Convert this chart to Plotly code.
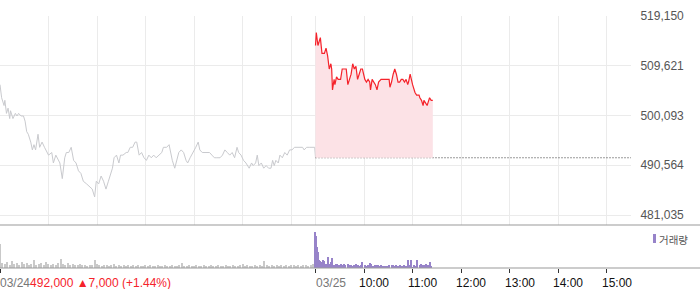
import plotly.graph_objects as go

# ---------------- data ----------------
# Day 1 (03/24): minutes since 09:00 and price
d1_min = [0, 2, 5, 6, 8, 10, 12, 13, 16, 19, 21, 23, 26, 29, 31, 33, 35, 38, 40, 42, 44, 47, 49, 52, 55, 58,
          60, 64, 66, 69, 72, 74, 77, 80, 82, 85, 88, 91, 94, 97, 100, 103, 107, 111, 114, 117, 119, 122, 125,
          128, 131, 134, 137, 139, 141, 144, 147, 149, 152, 156, 158, 161, 164, 167, 169, 172, 175, 178, 181,
          184, 187, 190, 193, 197, 200, 202, 206, 209, 211, 213, 216, 219, 221, 224, 227, 230, 232, 235, 239,
          242, 245, 247, 250, 253, 256, 259, 262, 265, 268, 272, 275, 278, 281, 284, 287, 290, 293, 295, 298,
          301, 304, 308, 311, 313, 316, 318, 320, 323, 326, 329, 332, 335, 337, 339, 341, 344, 346, 349, 352,
          355, 358, 361, 364, 367, 370, 374, 376, 379, 383, 386, 389, 390]
d1_price = [506000, 503500, 502000, 503000, 500500, 501500, 499500, 501000, 499500, 500500, 500000, 500500,
            500000, 500000, 499000, 497000, 496500, 495000, 493500, 494500, 493500, 496500, 494000, 495000,
            494000, 493000, 492500, 493000, 491000, 492500, 491500, 491000, 488000, 492000, 493000, 493000,
            494000, 491500, 491000, 489500, 489000, 487500, 487000, 486500, 486000, 484500, 487500, 487000,
            488500, 487500, 486000, 487500, 489000, 490000, 492000, 492500, 491000, 492500, 492500, 493000,
            493000, 494000, 494000, 495000, 495000, 492500, 493000, 492000, 491500, 492500, 492000, 492500,
            492000, 492500, 493000, 494000, 494000, 494500, 493000, 491500, 490000, 492000, 493000, 493500,
            493000, 491500, 491000, 492000, 493000, 494000, 495000, 493500, 493000, 493000, 493000, 493000,
            492500, 492000, 492000, 492000, 492500, 493500, 493000, 492500, 493000, 492000, 494000, 493000,
            492500, 491500, 491000, 490000, 491000, 490500, 491000, 492500, 490500, 491000, 490000, 490500,
            490000, 490000, 491500, 490500, 491500, 491000, 492500, 492000, 493000, 492500, 493500, 493500,
            494000, 494000, 494000, 494000, 493500, 494000, 494000, 494000, 494000, 492000]

# Day 2 (03/25): minutes since 09:00 and price
d2_min = [0, 1, 3, 5, 6, 8, 11, 13, 15, 17, 19, 20, 21, 23, 24, 26, 28, 31, 33, 36, 38, 40, 42, 44, 46, 48,
          50, 52, 54, 56, 58, 61, 63, 65, 67, 68, 70, 72, 74, 76, 78, 81, 83, 86, 89, 91, 92, 94, 96, 98, 100,
          102, 104, 106, 108, 110, 112, 114, 115, 117, 120, 121, 123, 125, 128, 129, 131, 133, 134, 136, 138,
          139, 141, 143, 145]
d2_price = [513500, 516000, 513500, 514500, 515000, 512000, 512000, 513000, 511500, 509000, 510000, 509000,
            505000, 507000, 506000, 507500, 507000, 507000, 509000, 509000, 509000, 506000, 507000, 508000,
            510000, 509000, 509500, 507000, 508000, 509000, 509000, 507000, 506500, 507000, 506500, 505000,
            507000, 506500, 506000, 505000, 506500, 507000, 507000, 507000, 507000, 507000, 505500, 506500,
            508000, 509000, 508000, 506500, 506500, 507000, 507000, 506500, 507000, 506000, 506500, 508000,
            506000, 505500, 504500, 504000, 504000, 503500, 503000, 502000, 503000, 502500, 502000, 502500,
            503500, 503000, 503000]

prev_close = 492000

# Volume (relative units)
v1_min = list(range(0, 390, 3))
v1_vol = [24, 5, 4, 6, 3, 7, 4, 5, 3, 6, 4, 5, 3, 4, 8, 3, 4, 5, 3, 6, 4, 3, 4, 3, 5, 9, 4, 3, 5, 3, 4, 3,
          3, 4, 3, 3, 2, 3, 3, 8, 4, 3, 2, 3, 3, 2, 3, 4, 2, 3, 2, 3, 2, 3, 2, 3, 2, 3, 2, 2, 3, 2, 3, 2,
          2, 3, 2, 2, 3, 2, 2, 3, 2, 2, 3, 5, 2, 2, 3, 2, 2, 3, 2, 2, 3, 2, 2, 3, 2, 2, 3, 2, 2, 3, 2, 2,
          3, 2, 2, 3, 4, 2, 3, 2, 2, 3, 2, 3, 2, 7, 3, 2, 3, 2, 3, 2, 3, 2, 3, 2, 3, 3, 2, 3, 2, 3, 3, 2,
          3, 4]
v2_min = [0, 1, 2, 3, 4, 5, 7, 9, 11, 13, 15, 17, 19, 21, 23, 25, 27, 29, 31, 33, 35, 37, 40, 42, 44, 46,
          48, 50, 52, 54, 56, 58, 61, 63, 65, 67, 69, 71, 73, 75, 77, 79, 81, 83, 85, 87, 89, 91, 94, 96, 98,
          100, 102, 104, 106, 108, 110, 112, 114, 116, 118, 120, 122, 124, 126, 129, 131, 133, 135, 137, 139,
          141, 143]
v2_vol = [36, 32, 21, 16, 8, 7, 6, 8, 7, 4, 11, 4, 6, 10, 3, 4, 4, 3, 4, 3, 4, 3, 4, 3, 3, 2, 3, 4, 3, 2,
          3, 6, 3, 2, 3, 5, 4, 2, 3, 3, 3, 2, 3, 2, 2, 2, 2, 3, 3, 3, 2, 3, 2, 3, 2, 2, 3, 2, 8, 3, 8, 1,
          3, 2, 8, 3, 4, 3, 3, 4, 3, 6, 2]

y_ticks = [481035, 490564, 500093, 509621, 519150]
grid_x = [0, 60, 120, 180, 240, 300, 360, 390, 450, 510, 570, 630, 690, 750]
tick_x = [390, 450, 510, 570, 630, 690, 750]
tick_lbl = ["03/25", "10:00", "11:00", "12:00", "13:00", "14:00", "15:00"]

# ---------------- geometry ----------------
W, H = 700, 289
ML, MR, MT, MB = 0, 69, 16, 21
PH = H - MT - MB  # 252
PW = W - ML - MR
main_bottom = (268 - 225) / PH
vol_top = 42 / PH
y_top = 519150
y_bot = y_top - 209 * (519150 - 481035) / 199

D2 = 390  # day-2 offset
x2 = [D2 + m for m in d2_min]
v2x = [D2 + m for m in v2_min]

FONT = "Liberation Sans, Arial, sans-serif"

fig = go.Figure()
fig.add_trace(go.Scatter(x=d1_min, y=d1_price, mode="lines",
                         line=dict(color="#c9cace", width=1), hoverinfo="skip", showlegend=False))
fig.add_trace(go.Scatter(x=[D2, 780], y=[prev_close, prev_close], mode="lines",
                         line=dict(color="#333333", width=1, dash="1px,2px"), hoverinfo="skip",
                         showlegend=False))
fig.add_trace(go.Scatter(x=x2, y=[prev_close] * len(x2), mode="lines",
                         line=dict(width=0, color="rgba(0,0,0,0)"), hoverinfo="skip", showlegend=False))
fig.add_trace(go.Scatter(x=x2, y=d2_price, mode="lines", fill="tonexty",
                         fillcolor="rgba(252,226,230,1)",
                         line=dict(color="#f5232b", width=1.2), showlegend=False))
fig.add_trace(go.Bar(x=v1_min, y=v1_vol, width=1.6, marker=dict(color="#c9c9c9", line=dict(width=0)),
                     xaxis="x2", yaxis="y2", showlegend=False))
fig.add_trace(go.Bar(x=v2x, y=v2_vol, width=1.3, marker=dict(color="#9783c9", line=dict(width=0)),
                     xaxis="x2", yaxis="y2", showlegend=False))

fig.update_layout(
    width=W, height=H, margin=dict(l=ML, r=MR, t=MT, b=MB),
    paper_bgcolor="white", plot_bgcolor="white", bargap=0,
    font=dict(family=FONT, size=12, color="#555"),
    xaxis=dict(domain=[0, 1], range=[0, 780], tickvals=grid_x, showticklabels=False, ticks="",
               showgrid=True, gridcolor="#ebebeb", gridwidth=1, zeroline=False, showline=False,
               anchor="y"),
    yaxis=dict(domain=[main_bottom, 1], range=[y_bot, y_top], side="right", tickvals=y_ticks,
               ticktext=[f"{v:,}" for v in y_ticks], ticks="outside", ticklen=6,
               tickcolor="rgba(0,0,0,0)", showgrid=True, gridcolor="#ebebeb", zeroline=False,
               showline=False, tickfont=dict(family=FONT, size=12, color="#555")),
    xaxis2=dict(domain=[0, 1], range=[0, 780], matches="x", anchor="y2", tickvals=[0] + tick_x,
                showticklabels=False, ticks="outside", ticklen=4, tickcolor="#333", tickwidth=1,
                showgrid=False, zeroline=False, showline=False),
    yaxis2=dict(domain=[0, vol_top], range=[0, 42], showticklabels=False, showgrid=False,
                zeroline=False, ticks=""),
)

# bottom line of price panel and of volume panel (full width)
for yy in (main_bottom, 0):
    fig.add_shape(type="line", xref="paper", yref="paper", x0=0, x1=W / PW, y0=yy, y1=yy,
                  line=dict(color="#999", width=1))

# legend for volume
fig.add_shape(type="rect", xref="paper", yref="paper", x0=653 / PW, x1=656 / PW,
              y0=(268 - 243) / PH, y1=(268 - 234) / PH, fillcolor="#9783c9", line=dict(width=0))
fig.add_annotation(xref="paper", yref="paper", x=657 / PW, y=(268 - 239) / PH, xanchor="left",
                   yanchor="middle", showarrow=False, text="거래량",
                   font=dict(family="Noto Sans CJK KR", size=10.5, color="#555"))

# bottom labels
ylab = (268 - 282.5) / PH
fig.add_annotation(xref="x2", yref="paper", x=0, y=ylab, xanchor="left", yanchor="middle", showarrow=False,
                   xshift=-2,
                   text="<span style='color:#777'>03/24</span><span style='color:#f5232b'>492,000 ▲7,000 (+1.44%)</span>",
                   font=dict(family=FONT, size=12))
for tv, tl in zip(tick_x, tick_lbl):
    fig.add_annotation(xref="x2", yref="paper", x=tv, y=ylab, xanchor="left", yanchor="middle",
                       showarrow=False, text=tl, xshift=(-2 if tl == "03/25" else -7),
                       font=dict(family=FONT, size=12, color="#777" if tl == "03/25" else "#111"))

fig.write_html("out.html")
